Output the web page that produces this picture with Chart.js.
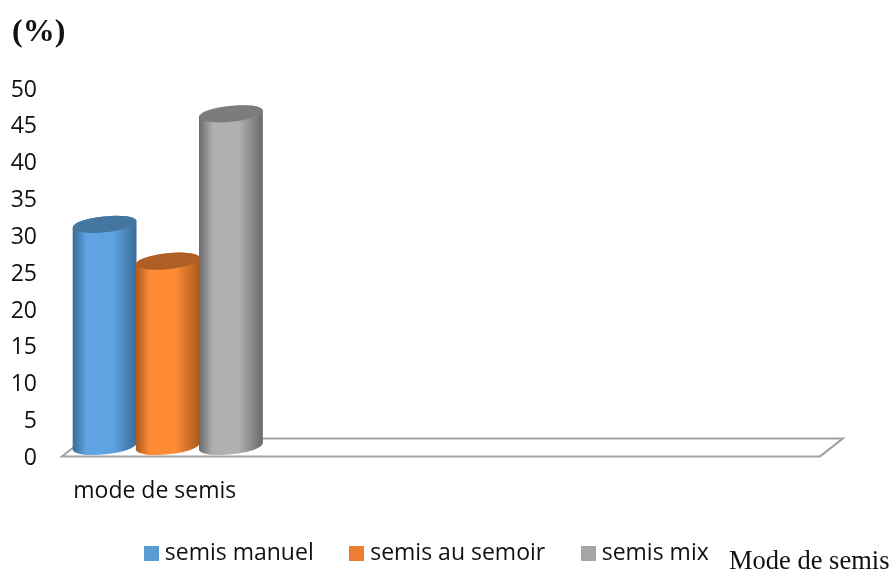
<!DOCTYPE html>
<html>
<head>
<meta charset="utf-8">
<script src="https://cdn.jsdelivr.net/npm/chart.js@4"></script>
<style>
  html, body { margin: 0; padding: 0; background: #fff; }
  #wrap { width: 892px; height: 570px; }
</style>
</head>
<body>
<div id="wrap"><canvas id="myChart"></canvas></div>
<script>
// one real group, the other three slots stay empty
var categories = ['mode de semis', '', '', ''];
var semisManuel = [30, null, null, null];
var semisSemoir = [25, null, null, null];
var semisMix = [45, null, null, null];

var serieLabels = ['semis manuel', 'semis au semoir', 'semis mix'];
var serieColors = ['#5b9bd5', '#ed7d31', '#a5a5a5'];

// left edge, middle and top cap colour of each cylinder
var shades = [
  { edge: '#3a6c99', mid: '#5fa3e3', cap: '#44769f' },
  { edge: '#a9591c', mid: '#ff8b35', cap: '#b05f24' },
  { edge: '#6a6a6a', mid: '#b0b0b0', cap: '#7c7c7c' }
];

var DEPTH_X = 23;   // floor slant
var DEPTH_Y = 18;
var FLOOR_LIFT = 2; // floor line sits just above the zero tick
var SHIFT_X = 11;   // cylinders stand in the middle of the floor
var SHIFT_Y = 13;
var TILT = -6 * Math.PI / 180;

// small square for the legend, lets the text sit closer than boxWidth would
function swatch(color) {
  var c = document.createElement('canvas');
  c.width = 15;
  c.height = 15;
  var g = c.getContext('2d');
  g.fillStyle = color;
  g.fillRect(0, 0, 15, 15);
  return c;
}

function drawCylinder(ctx, bar, shade) {
  var cx = bar.x + SHIFT_X;
  var rx = bar.width / 2 + 0.5;
  var ry = 8;
  var top = bar.y - SHIFT_Y;
  var bottom = bar.base - SHIFT_Y + 1;

  var grad = ctx.createLinearGradient(cx - rx, 0, cx + rx, 0);
  grad.addColorStop(0, shade.edge);
  grad.addColorStop(0.22, shade.mid);
  grad.addColorStop(0.62, shade.mid);
  grad.addColorStop(1, shade.edge);

  ctx.beginPath();
  ctx.ellipse(cx, top, rx, ry, TILT, Math.PI, 0);
  ctx.ellipse(cx, bottom, rx, ry, TILT, 0, Math.PI);
  ctx.closePath();
  ctx.fillStyle = grad;
  ctx.fill();

  ctx.beginPath();
  ctx.ellipse(cx, top, rx, ry, TILT, 0, Math.PI * 2);
  ctx.fillStyle = shade.cap;
  ctx.fill();
}

var cylinders = {
  id: 'cylinders',
  // flat floor under the bars
  beforeDatasetsDraw: function (chart) {
    var ctx = chart.ctx, a = chart.chartArea;
    var front = a.bottom - FLOOR_LIFT;
    ctx.save();
    ctx.beginPath();
    ctx.moveTo(a.left + DEPTH_X, front - DEPTH_Y);
    ctx.lineTo(a.left, front);
    ctx.lineTo(a.right, front);
    ctx.lineTo(a.right + DEPTH_X, front - DEPTH_Y);
    ctx.closePath();
    ctx.strokeStyle = '#a3a3a3';
    ctx.lineWidth = 2;
    ctx.stroke();
    ctx.restore();
  },
  // the flat bars are replaced by cylinders
  beforeDatasetDraw: function () {
    return false;
  },
  afterDatasetsDraw: function (chart) {
    var ctx = chart.ctx;
    ctx.save();
    chart.data.datasets.forEach(function (ds, i) {
      chart.getDatasetMeta(i).data.forEach(function (bar, j) {
        if (ds.data[j] !== null) drawCylinder(ctx, bar, shades[i]);
      });
    });
    ctx.restore();
  }
};

var axisNotes = {
  id: 'axisNotes',
  // legend sits a little off the centre of the plot, and its box has to
  // stay tall enough for the row not to be clipped
  afterLayout: function (chart) {
    var lg = chart.legend;
    lg.left += 19;
    lg.right += 19;
    lg.top = 501;
    lg.bottom = 570;
  },
  afterDraw: function (chart) {
    var ctx = chart.ctx;
    ctx.save();
    ctx.fillStyle = '#111';
    ctx.textBaseline = 'alphabetic';
    ctx.font = 'bold 32px "Liberation Serif"';
    ctx.fillText('(%)', 12, 41);
    ctx.font = '26.5px "Liberation Serif"';
    ctx.fillText('Mode de semis', 729, 569);
    ctx.restore();
  }
};

var ctx = document.getElementById('myChart').getContext('2d');
var myChart = new Chart(ctx, {
  type: 'bar',
  data: {
    labels: categories,
    datasets: [
      { label: serieLabels[0], data: semisManuel, backgroundColor: serieColors[0] },
      { label: serieLabels[1], data: semisSemoir, backgroundColor: serieColors[1] },
      { label: serieLabels[2], data: semisMix, backgroundColor: serieColors[2] }
    ]
  },
  plugins: [cylinders, axisNotes],
  options: {
    responsive: true,
    maintainAspectRatio: false,
    animation: false,
    layout: { padding: { left: 0, right: 72, top: 90, bottom: 0 } },
    datasets: { bar: { barPercentage: 1, categoryPercentage: 1 } },
    scales: {
      x: {
        grid: { display: false },
        border: { display: false },
        ticks: {
          autoSkip: false,
          maxRotation: 0,
          padding: 11,
          labelOffset: -2,
          color: '#111',
          font: { family: '"Open Sans"', size: 23 }
        }
      },
      y: {
        min: 0,
        max: 50,
        grid: { display: false, drawTicks: false },
        border: { display: false },
        afterFit: function (scale) { scale.width = 62; },
        ticks: {
          stepSize: 5,
          padding: 25,
          color: '#111',
          font: { family: '"Open Sans"', size: 23 }
        }
      }
    },
    plugins: {
      tooltip: { enabled: false },
      legend: {
        position: 'bottom',
        maxHeight: 54,
        labels: {
          usePointStyle: true,
          pointStyleWidth: 4,
          boxHeight: 15,
          padding: 41,
          color: '#111',
          font: { family: '"Open Sans"', size: 23 },
          generateLabels: function (chart) {
            var items = Chart.defaults.plugins.legend.labels.generateLabels(chart);
            items.forEach(function (item, i) {
              item.pointStyle = swatch(serieColors[i]);
            });
            return items;
          }
        }
      }
    }
  }
});
</script>
</body>
</html>
